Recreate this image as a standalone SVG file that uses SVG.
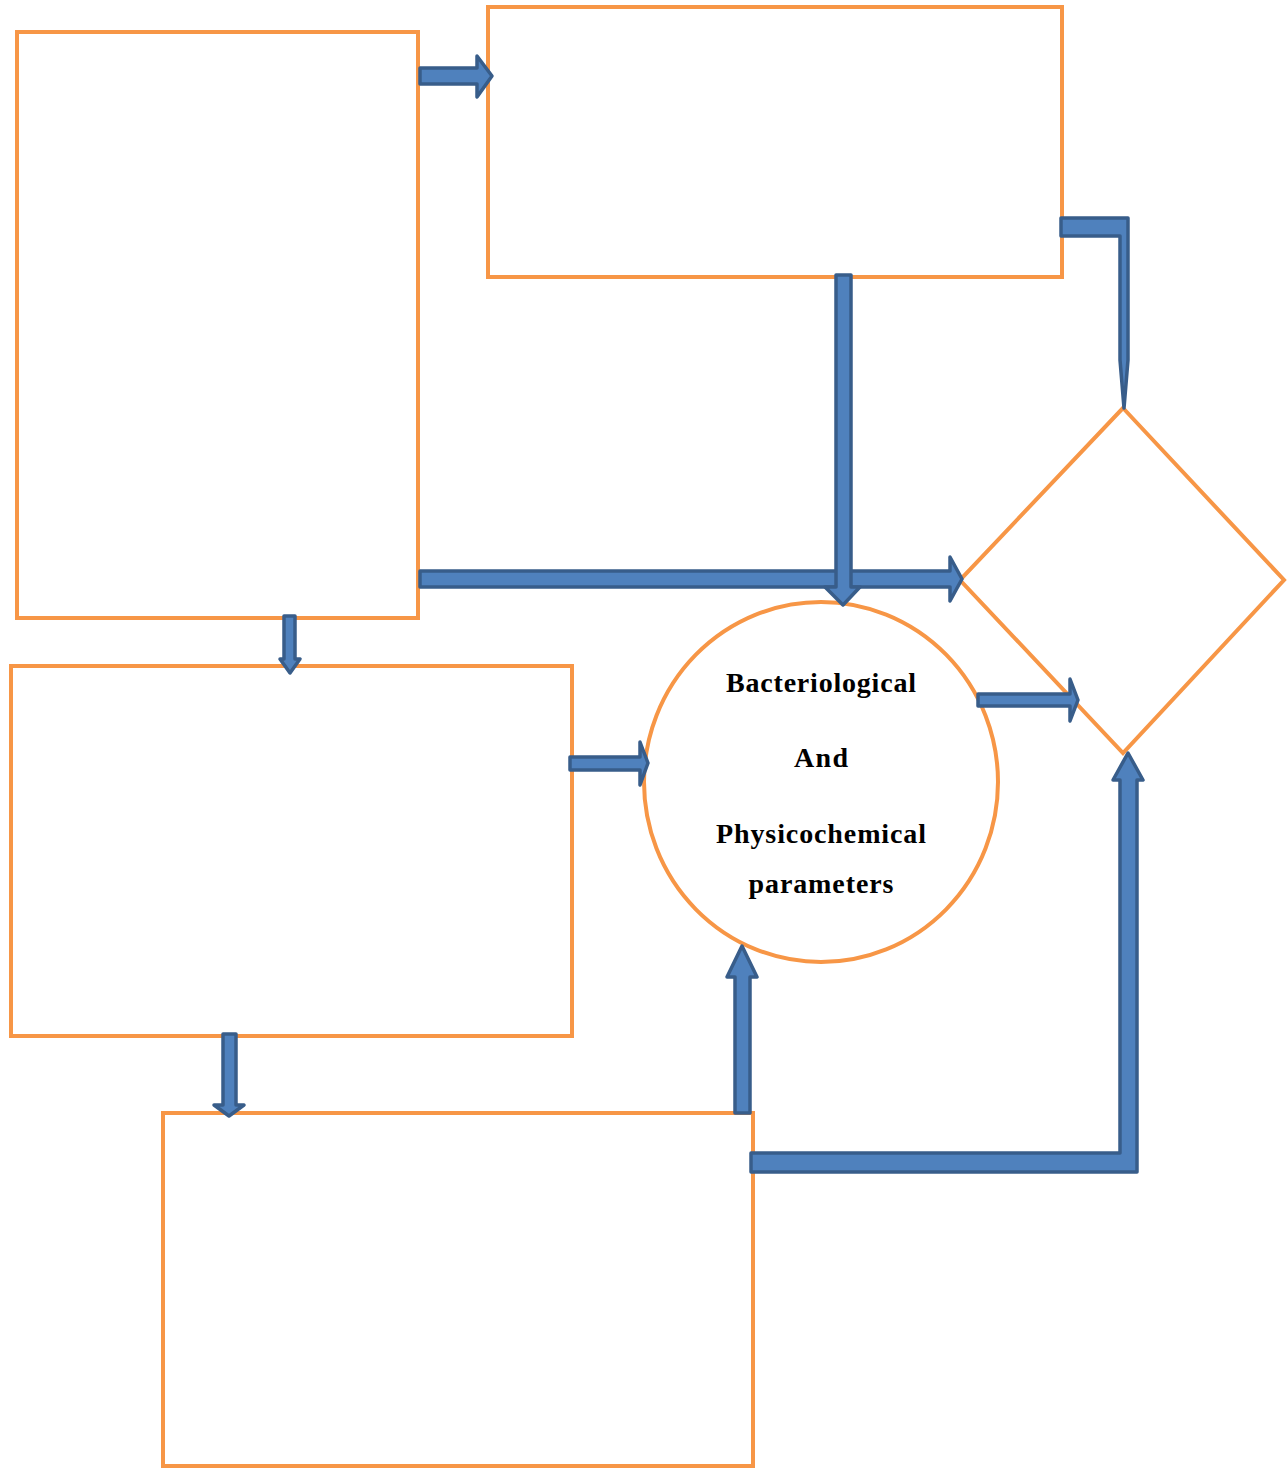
<svg xmlns="http://www.w3.org/2000/svg" width="1288" height="1468" viewBox="0 0 1288 1468">
<style>
.node{fill:#ffffff;stroke:#F79646;stroke-width:4}
.arr{fill:#4F81BD;stroke:#385D8A;stroke-width:3.5;stroke-linejoin:round}
.lbl{font-family:"Liberation Serif","Times New Roman",serif;font-weight:bold;font-size:28px;fill:#000;text-anchor:middle}
</style>
<rect width="1288" height="1468" fill="#ffffff"/>
<g id="box-a"><rect class="node" x="17" y="32" width="401" height="586"/></g>
<g id="box-b"><rect class="node" x="488" y="7" width="574" height="270"/></g>
<g id="box-c"><rect class="node" x="11" y="666" width="561" height="370"/></g>
<g id="box-d"><rect class="node" x="163" y="1113" width="590" height="353"/></g>
<g id="circle">
<ellipse class="node" cx="821" cy="782" rx="177" ry="180"/>
<text class="lbl" x="821" y="692" textLength="190" lengthAdjust="spacing">Bacteriological</text>
<text class="lbl" x="821" y="767" textLength="54" lengthAdjust="spacing">And</text>
<text class="lbl" x="821" y="843" textLength="210" lengthAdjust="spacing">Physicochemical</text>
<text class="lbl" x="821" y="893" textLength="145" lengthAdjust="spacing">parameters</text>
</g>
<g id="diamond"><polygon class="node" points="1123,408 1284,580 1123,753 960,580"/></g>
<g id="connectors">
<path class="arr" d="M420,68 H477 V56 L492,76 L477,97 V84 H420 Z"/>
<path class="arr" d="M1061,218 H1128 V360 L1124,408 L1120,360 V236 H1061 Z"/>
<path class="arr" d="M420,571 H950 V557 L962,579 L950,601 V587 H420 Z"/>
<path class="arr" d="M836,275 V587 H825 L843,605 L860,587 H851 V275 Z"/>
<path class="arr" d="M978,694 H1070 V679 L1078,700 L1070,721 V706 H978 Z"/>
<path class="arr" d="M570,757 H640 V742 L648,763 L640,785 V770 H570 Z"/>
<path class="arr" d="M735,1113 V977 H727 L742,946 L757,977 H750 V1113 Z"/>
<path class="arr" d="M751,1153 H1120 V780 H1113 L1128,753 L1143,780 H1137 V1172 H751 Z"/>
<path class="arr" d="M284,616 V659 H280 L290,673 L300,659 H295 V616 Z"/>
<path class="arr" d="M223,1034 V1105 H214 L229,1116 L244,1105 H236 V1034 Z"/>
</g>
</svg>
